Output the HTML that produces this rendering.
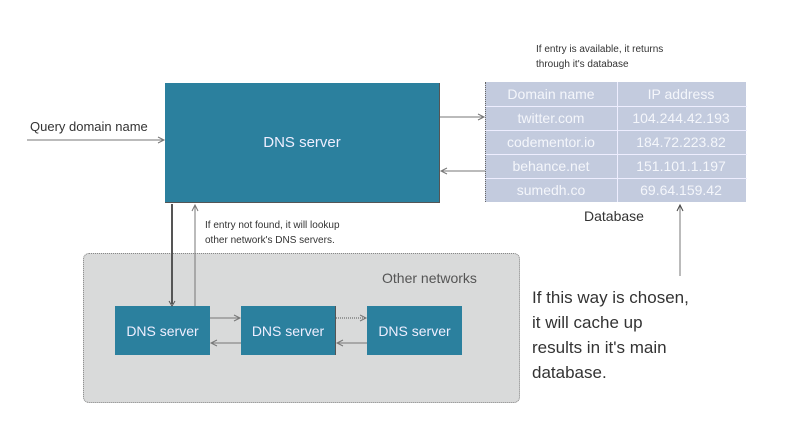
<!DOCTYPE html>
<html><head><style>
body{margin:0;width:800px;height:448px;background:#fff;position:relative;font-family:"Liberation Sans",sans-serif;overflow:hidden}
.a{position:absolute}
.b{background:#2b809e;color:#eef;display:flex;align-items:center;justify-content:center}
.t{color:#333}
</style></head><body>
<div class="a b" style="left:165px;top:83px;width:275px;height:120px;font-size:15px;border-right:1px solid #555;border-bottom:1px solid #555;box-sizing:border-box">DNS server</div>
<div class="a t" style="left:30px;top:119px;font-size:13px">Query domain name</div>
<div class="a t" style="left:536px;top:42px;font-size:10px;line-height:15px">If entry is available, it returns<br>through it's database</div>
<div class="a t" style="left:205px;top:218px;font-size:10px;line-height:15px">If entry not found, it will lookup<br>other network's DNS servers.</div>
<div class="a" style="left:485px;top:82px;width:260px;height:120px;background:#c3cbde;border-left:1px dotted #666"></div>
<div class="a" style="left:617px;top:82px;width:1px;height:120px;background:#eef"></div>
<div class="a" style="left:485px;top:106px;width:262px;height:1px;background:#eef"></div>
<div class="a" style="left:485px;top:130px;width:262px;height:1px;background:#eef"></div>
<div class="a" style="left:485px;top:154px;width:262px;height:1px;background:#eef"></div>
<div class="a" style="left:485px;top:178px;width:262px;height:1px;background:#eef"></div>
<div class="a" style="left:485px;top:82px;width:132px;font-size:14px;color:#f4f6fb;line-height:24px;text-align:center">Domain name<br>twitter.com<br>codementor.io<br>behance.net<br>sumedh.co</div>
<div class="a" style="left:617px;top:82px;width:128px;font-size:14px;color:#f4f6fb;line-height:24px;text-align:center">IP address<br>104.244.42.193<br>184.72.223.82<br>151.101.1.197<br>69.64.159.42</div>
<div class="a t" style="left:584px;top:208px;font-size:14px">Database</div>
<div class="a t" style="left:532px;top:285px;font-size:17px;line-height:25px">If this way is chosen,<br>it will cache up<br>results in it's main<br>database.</div>
<div class="a" style="left:83px;top:253px;width:437px;height:150px;background:#d9dada;border:1px dotted #888;border-radius:6px;box-sizing:border-box"></div>
<div class="a" style="left:382px;top:270px;font-size:14px;color:#555">Other networks</div>
<div class="a b" style="left:115px;top:306px;width:95px;height:49px;font-size:14px">DNS server</div>
<div class="a b" style="left:241px;top:306px;width:95px;height:49px;font-size:14px;border-right:1px solid #555;box-sizing:border-box">DNS server</div>
<div class="a b" style="left:367px;top:306px;width:95px;height:49px;font-size:14px">DNS server</div>
<svg class="a" style="left:0;top:0" width="800" height="448">
<g fill="none" stroke="#777" stroke-width="1">
<line x1="27" y1="140" x2="163" y2="140"/><path d="M158 137 L164 140 L158 143"/>
<line x1="440" y1="117" x2="483" y2="117"/><path d="M478 114 L484 117 L478 120"/>
<line x1="442" y1="171" x2="485" y2="171"/><path d="M447 168 L441 171 L447 174"/>
<line x1="680" y1="276" x2="680" y2="206"/><path d="M677 211 L680 205 L683 211" stroke="#444"/>
<line x1="172" y1="204" x2="172" y2="304" stroke="#555" stroke-width="2"/><path d="M169 301 L172 306 L175 301" stroke="#555"/>
<line x1="195" y1="306" x2="195" y2="206"/><path d="M192 211 L195 205 L198 211"/>
<line x1="210" y1="318" x2="239" y2="318"/><path d="M234 315 L240 318 L234 321"/>
<line x1="241" y1="343" x2="212" y2="343"/><path d="M217 340 L211 343 L217 346"/>
<line x1="336" y1="318" x2="365" y2="318" stroke-dasharray="1 1" stroke="#555"/><path d="M360 315 L366 318 L360 321"/>
<line x1="367" y1="343" x2="338" y2="343"/><path d="M343 340 L337 343 L343 346"/>
</g></svg>
</body></html>
